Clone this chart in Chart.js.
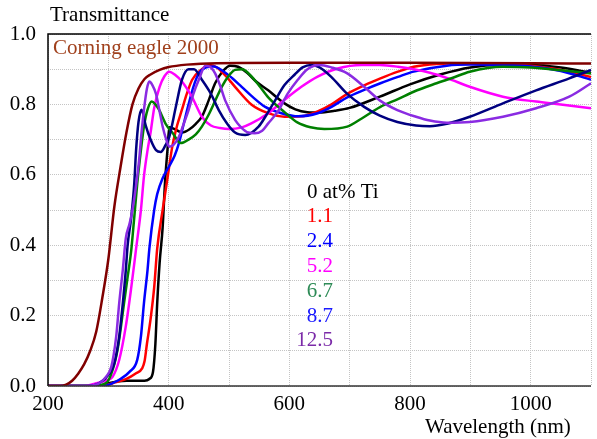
<!DOCTYPE html>
<html>
<head>
<meta charset="utf-8">
<script src="https://cdn.jsdelivr.net/npm/chart.js@4.4.0/dist/chart.umd.min.js"></script>
<style>
  body { margin: 0; background: #fff; }
  #wrap { width: 597px; height: 439px; }
</style>
</head>
<body>
<div id="wrap"><canvas id="chart" width="597" height="439"></canvas></div>
<script>
// wavelength (nm) / transmittance pairs
const nmCorning = [200, 220, 230, 240, 250, 260, 270, 280, 290, 300, 310, 320, 330, 340, 350, 360, 370, 385, 400, 430, 480, 600, 800, 1000, 1100];
const tCorning  = [0, 0, 0.004, 0.015, 0.035, 0.062, 0.10, 0.155, 0.25, 0.36, 0.51, 0.62, 0.72, 0.80, 0.845, 0.872, 0.885, 0.898, 0.906, 0.913, 0.917, 0.918, 0.918, 0.917, 0.916];

const nm0 = [200, 285, 300, 330, 360, 368, 374, 378, 381, 385, 390, 394, 398, 401, 410, 422, 435, 445, 455, 466, 477, 490, 502, 515, 530, 545, 565, 590, 610, 630, 650, 675, 700, 750, 800, 850, 900, 950, 1000, 1050, 1100];
const t0  = [0, 0, 0.008, 0.015, 0.015, 0.02, 0.04, 0.12, 0.235, 0.35, 0.45, 0.58, 0.67, 0.735, 0.73, 0.72, 0.73, 0.745, 0.765, 0.81, 0.86, 0.895, 0.91, 0.907, 0.89, 0.865, 0.84, 0.805, 0.786, 0.778, 0.777, 0.782, 0.79, 0.822, 0.857, 0.885, 0.905, 0.912, 0.912, 0.905, 0.89];

const nm11 = [200, 290, 307, 330, 346, 356, 360, 364, 370, 376, 381, 390, 398, 406, 414, 422, 430, 439, 455, 468, 480, 495, 510, 537, 565, 592, 620, 647, 670, 696, 725, 751, 780, 806, 844, 900, 960, 1000, 1050, 1100];
const t11  = [0, 0, 0.008, 0.02, 0.036, 0.05, 0.07, 0.12, 0.19, 0.28, 0.39, 0.5, 0.59, 0.68, 0.74, 0.785, 0.83, 0.87, 0.9, 0.912, 0.905, 0.88, 0.85, 0.8, 0.775, 0.765, 0.766, 0.78, 0.8, 0.83, 0.855, 0.874, 0.893, 0.907, 0.915, 0.917, 0.915, 0.91, 0.898, 0.878];

const nm24 = [200, 290, 307, 320, 335, 348, 354, 359, 365, 368, 376, 381, 390, 401, 410, 417, 425, 433, 441, 450, 462, 475, 490, 505, 521, 540, 560, 587, 615, 647, 670, 696, 725, 751, 780, 806, 861, 900, 1000, 1050, 1100];
const t24  = [0, 0, 0.008, 0.02, 0.04, 0.075, 0.14, 0.235, 0.33, 0.39, 0.5, 0.545, 0.59, 0.625, 0.655, 0.69, 0.745, 0.8, 0.85, 0.888, 0.905, 0.908, 0.895, 0.875, 0.85, 0.82, 0.793, 0.775, 0.766, 0.775, 0.793, 0.82, 0.842, 0.86, 0.878, 0.893, 0.91, 0.913, 0.908, 0.895, 0.87];

const nm52 = [200, 260, 280, 300, 307, 318, 329, 338, 346, 354, 359, 365, 370, 376, 385, 393, 401, 410, 422, 439, 455, 470, 485, 500, 520, 537, 565, 592, 620, 647, 680, 720, 750, 780, 833, 861, 899, 954, 1009, 1050, 1100];
const t52  = [0, 0, 0.008, 0.018, 0.026, 0.074, 0.17, 0.28, 0.39, 0.5, 0.595, 0.67, 0.72, 0.79, 0.85, 0.88, 0.893, 0.885, 0.865, 0.82, 0.765, 0.74, 0.733, 0.73, 0.734, 0.746, 0.775, 0.813, 0.85, 0.879, 0.902, 0.912, 0.912, 0.907, 0.89, 0.875, 0.85, 0.822, 0.808, 0.8, 0.789];

const nm67 = [200, 270, 296, 307, 316, 326, 332, 338, 343, 348, 354, 359, 365, 372, 378, 384, 395, 406, 420, 433, 445, 455, 466, 477, 488, 499, 510, 522, 537, 550, 565, 592, 614, 635, 658, 696, 720, 751, 780, 806, 844, 870, 899, 954, 1000, 1050, 1100];
const t67  = [0, 0, 0.008, 0.045, 0.11, 0.235, 0.31, 0.386, 0.48, 0.576, 0.67, 0.737, 0.785, 0.808, 0.8, 0.785, 0.745, 0.72, 0.69, 0.7, 0.715, 0.737, 0.77, 0.81, 0.85, 0.88, 0.898, 0.9, 0.88, 0.853, 0.82, 0.778, 0.748, 0.735, 0.73, 0.737, 0.76, 0.793, 0.815, 0.836, 0.86, 0.875, 0.893, 0.907, 0.905, 0.897, 0.888];

const nm87 = [200, 265, 285, 302, 310, 318, 324, 329, 332, 338, 343, 346, 350, 355, 362, 370, 379, 387, 395, 401, 412, 422, 433, 442, 455, 470, 483, 497, 510, 527, 549, 562, 576, 592, 609, 622, 636, 650, 669, 696, 724, 750, 779, 810, 833, 861, 899, 954, 1009, 1064, 1100];
const t87  = [0, 0, 0.008, 0.036, 0.065, 0.14, 0.235, 0.33, 0.4, 0.48, 0.576, 0.67, 0.75, 0.785, 0.74, 0.70, 0.67, 0.665, 0.685, 0.708, 0.794, 0.87, 0.9, 0.9, 0.87, 0.83, 0.784, 0.745, 0.72, 0.713, 0.737, 0.77, 0.81, 0.855, 0.885, 0.905, 0.912, 0.905, 0.879, 0.83, 0.793, 0.768, 0.75, 0.74, 0.738, 0.745, 0.765, 0.803, 0.84, 0.874, 0.898];

const nm125 = [200, 265, 285, 296, 305, 313, 318, 324, 329, 335, 340, 346, 351, 355, 359, 364, 368, 373, 379, 385, 390, 396, 401, 408, 417, 425, 433, 441, 450, 461, 470, 477, 486, 494, 510, 520, 532, 543, 555, 565, 581, 597, 614, 630, 650, 670, 696, 724, 751, 779, 810, 833, 861, 899, 954, 1009, 1064, 1100];
const t125  = [0, 0, 0.008, 0.026, 0.055, 0.14, 0.235, 0.33, 0.42, 0.46, 0.5, 0.57, 0.642, 0.72, 0.784, 0.845, 0.865, 0.855, 0.83, 0.78, 0.737, 0.7, 0.68, 0.685, 0.708, 0.745, 0.784, 0.83, 0.87, 0.91, 0.905, 0.888, 0.85, 0.81, 0.756, 0.735, 0.72, 0.718, 0.725, 0.746, 0.78, 0.83, 0.87, 0.9, 0.912, 0.905, 0.888, 0.85, 0.81, 0.784, 0.765, 0.754, 0.748, 0.75, 0.765, 0.789, 0.822, 0.86];

const legendLabels = ['0 at% Ti', '1.1', '2.4', '5.2', '6.7', '8.7', '12.5'];
const legendColors = ['#000000', '#ff0000', '#0000ff', '#ff00ff', '#2e8b57', '#1a1aff', '#7b2aa8'];

function pts(xs, ys) {
  return xs.map((x, i) => ({ x: x, y: ys[i] }));
}

function series(xs, ys, color) {
  return {
    data: pts(xs, ys),
    borderColor: color,
    borderWidth: 2.5,
    pointRadius: 0,
    cubicInterpolationMode: 'monotone',
    fill: false
  };
}

const serif = "'Liberation Serif', 'Times New Roman', serif";
Chart.defaults.font.family = serif;
Chart.defaults.font.size = 21;
Chart.defaults.color = '#000';

// texts and the frame
const extras = {
  id: 'extras',
  afterDraw(chart) {
    const ctx = chart.ctx;
    const a = chart.chartArea;
    ctx.save();
    ctx.strokeStyle = '#000';
    ctx.lineWidth = 1.5;
    ctx.beginPath();
    ctx.moveTo(a.left, a.bottom);
    ctx.lineTo(a.left, a.top);
    ctx.lineTo(a.right, a.top);
    ctx.stroke();
    ctx.strokeStyle = '#333';
    ctx.beginPath();
    ctx.moveTo(a.left, a.bottom);
    ctx.lineTo(a.right, a.bottom);
    ctx.stroke();

    ctx.font = '21px ' + serif;
    ctx.textBaseline = 'middle';
    ctx.textAlign = 'left';
    ctx.fillStyle = '#000';
    ctx.fillText('Transmittance', 50, 15);
    ctx.fillText('Wavelength (nm)', 425, 427);
    ctx.fillStyle = '#a0401c';
    ctx.fillText('Corning eagle 2000', 53, 48);

    legendLabels.forEach((txt, i) => {
      const y = 192 + i * 24.8;
      ctx.fillStyle = legendColors[i];
      if (i === 0) {
        ctx.textAlign = 'left';
        ctx.fillText(txt, 307, y);
      } else {
        ctx.textAlign = 'right';
        ctx.fillText(txt, 333, y);
      }
    });
    ctx.restore();
  }
};

new Chart(document.getElementById('chart'), {
  type: 'line',
  data: {
    datasets: [
      series(nmCorning, tCorning, '#800000'),
      series(nm125, t125, '#8a2be2'),
      series(nm87, t87, '#000080'),
      series(nm67, t67, '#008000'),
      series(nm52, t52, '#ff00ff'),
      series(nm24, t24, '#0000ff'),
      series(nm11, t11, '#ff0000'),
      series(nm0, t0, '#000000')
    ]
  },
  options: {
    responsive: false,
    animation: false,
    events: [],
    layout: { padding: { top: 34, right: 1, left: 0, bottom: 0 } },
    plugins: { legend: { display: false }, tooltip: { enabled: false }, title: { display: false } },
    scales: {
      x: {
        type: 'linear',
        min: 200,
        max: 1100,
        afterFit: s => { s.height = 53; },
        grid: { color: '#c4c4c4', lineWidth: 1, drawTicks: false },
        border: { display: false, dash: [1, 1] },
        ticks: {
          stepSize: 100,
          autoSkip: false,
          maxRotation: 0,
          padding: 6,
          callback: v => (v % 200 === 0 && v <= 1000) ? String(v) : ''
        }
      },
      y: {
        min: 0,
        max: 1,
        afterFit: s => { s.width = 48; },
        grid: { color: '#c4c4c4', lineWidth: 1, drawTicks: false },
        border: { display: false, dash: [1, 1] },
        ticks: {
          stepSize: 0.1,
          padding: 12,
          callback: v => (Math.round(v * 10) % 2 === 0) ? v.toFixed(1) : ''
        }
      }
    }
  },
  plugins: [extras]
});
</script>
</body>
</html>
